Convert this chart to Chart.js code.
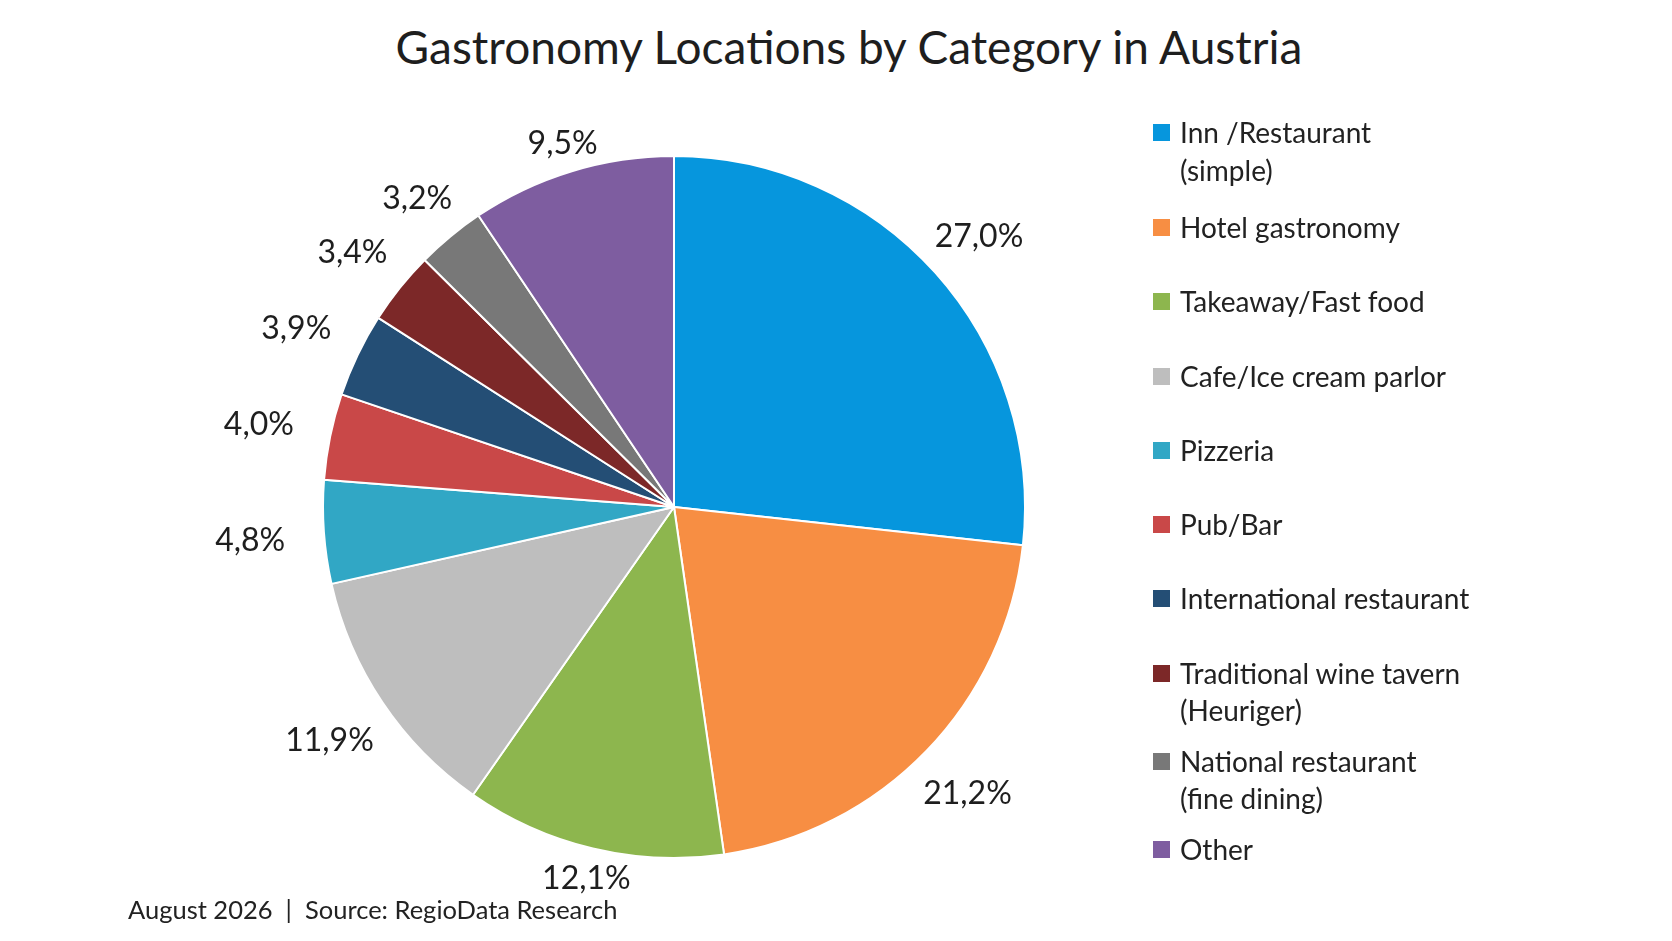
<!DOCTYPE html>
<html>
<head>
<meta charset="utf-8">
<script src="https://cdn.jsdelivr.net/npm/chart.js@4.4.1/dist/chart.umd.min.js"></script>
<style>
  html, body { margin: 0; padding: 0; background: #fff; }
  body { width: 1672px; height: 941px; position: relative; overflow: hidden; font-family: Lato, "Open Sans", sans-serif; color: #222; }
  #wrap { position: absolute; left: 0; top: 0; width: 1672px; height: 941px; }
  #title { position: absolute; left: 0; width: 1698px; top: 19px; text-align: center; font-size: 46px; color: #1e1e1e; }
  #legend { position: absolute; left: 1153px; top: 114px; font-size: 28px; line-height: 37.5px; }
  .item { display: flex; align-items: flex-start; margin-bottom: 36.8px; }
  .item.two { margin-bottom: 13px; }
  .item.two:first-child { margin-bottom: 20px; }
  .box { width: 17px; height: 17px; margin-top: 10px; margin-right: 10px; flex: none; }
  #footer { position: absolute; left: 128px; top: 894px; font-size: 25.5px; color: #222; }
</style>
</head>
<body>
<div id="title">Gastronomy Locations by Category in Austria</div>
<div id="wrap"><canvas id="pieChart"></canvas></div>
<div id="legend"></div>
<div id="footer">August 2026 &nbsp;|&nbsp; Source: RegioData Research</div>
<script>
var categories = [
  ["Inn /Restaurant", "(simple)"],
  ["Hotel gastronomy"],
  ["Takeaway/Fast food"],
  ["Cafe/Ice cream parlor"],
  ["Pizzeria"],
  ["Pub/Bar"],
  ["International restaurant"],
  ["Traditional wine tavern", "(Heuriger)"],
  ["National restaurant", "(fine dining)"],
  ["Other"]
];
var shares = [27.0, 21.2, 12.1, 11.9, 4.8, 4.0, 3.9, 3.4, 3.2, 9.5];
var colors = ["#0696dd", "#f78e43", "#8db64e", "#bebebe", "#31a7c5", "#c94848", "#244e75", "#7c2828", "#787878", "#7e5da0"];

// legend
var legend = document.getElementById("legend");
categories.forEach(function (lines, i) {
  var row = document.createElement("div");
  row.className = "item" + (lines.length > 1 ? " two" : "");
  var box = document.createElement("div");
  box.className = "box";
  box.style.background = colors[i];
  var txt = document.createElement("div");
  txt.innerHTML = lines.join("<br>");
  row.appendChild(box);
  row.appendChild(txt);
  legend.appendChild(row);
});

// percentage labels outside each slice
var outsideLabels = {
  id: "outsideLabels",
  afterDatasetsDraw: function (chart) {
    var ctx = chart.ctx;
    var meta = chart.getDatasetMeta(0);
    ctx.save();
    ctx.font = "32px Lato";
    ctx.fillStyle = "#1e1e1e";
    ctx.textAlign = "center";
    ctx.textBaseline = "middle";
    meta.data.forEach(function (arc, i) {
      var mid = (arc.startAngle + arc.endAngle) / 2;
      var ux = Math.cos(mid), uy = Math.sin(mid);
      // wider text needs more room at the sides than above/below
      var d = arc.outerRadius + 14 + 60 * Math.abs(ux);
      var text = shares[i].toFixed(1).replace(".", ",") + "%";
      ctx.fillText(text, arc.x + ux * d, arc.y + uy * d + 3);
    });
    ctx.restore();
  }
};

new Chart("pieChart", {
  type: "pie",
  data: {
    labels: categories,
    datasets: [{
      data: shares,
      backgroundColor: colors,
      borderColor: "#ffffff",
      borderWidth: 2
    }]
  },
  options: {
    responsive: true,
    maintainAspectRatio: false,
    animation: false,
    layout: { padding: { left: 322, right: 646, top: 155, bottom: 82 } },
    plugins: {
      legend: { display: false },
      tooltip: { enabled: false }
    }
  },
  plugins: [outsideLabels]
});
</script>
</body>
</html>
